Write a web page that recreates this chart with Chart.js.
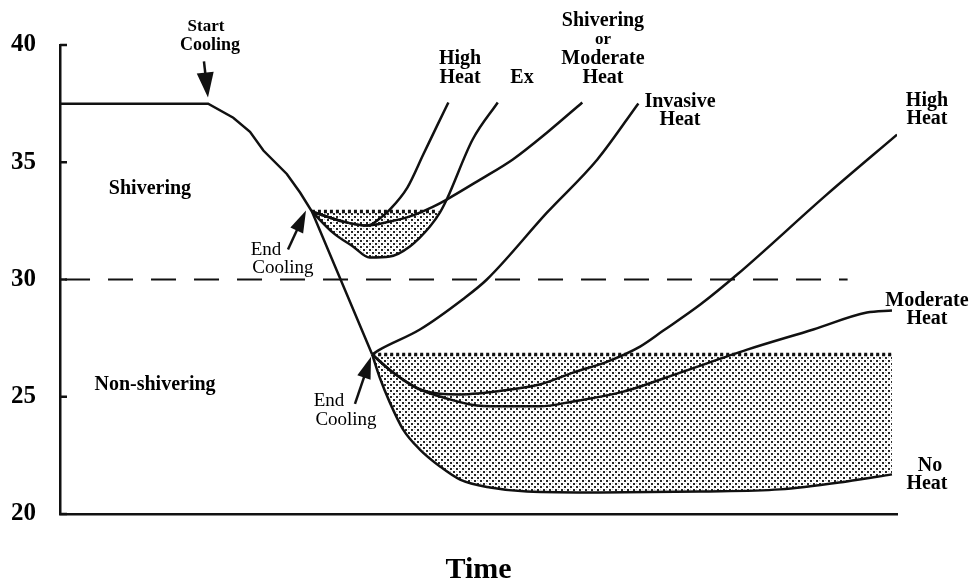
<!DOCTYPE html>
<html><head><meta charset="utf-8">
<script src="https://cdn.jsdelivr.net/npm/chart.js@4.4.1/dist/chart.umd.min.js"></script>
<style>html,body{margin:0;padding:0;background:#fff;}canvas{display:block;}</style>
</head><body>
<canvas id="c" width="969" height="588"></canvas>
<script>
// ---- data (time in arbitrary units 0..100, temperature in °C) ----
const yTickValues = [20, 25, 30, 35, 40];
const shiverThreshold = 30;
const dashTime = [0.6, 94.1];

const mainTime = [0, 17.7, 20.7, 22.7, 24.3, 27.1, 28.7, 30.1, 37.3];
const mainTemp = [37.5, 37.5, 36.9, 36.3, 35.5, 34.5, 33.7, 32.9, 26.8];

const upperLevel = 32.9;
const upperDotTime = [30.1, 45.1];

const upHighTime = [30.1, 33.8, 36.7, 38.2, 39.4, 41.5, 43.4, 45.0, 46.4];
const upHighTemp = [32.9, 32.47, 32.3, 32.6, 32.98, 33.92, 35.33, 36.52, 37.55];

const upShivTime = [30.1, 33.8, 36.7, 39.4, 41.8, 44.6, 46.2, 50.2, 54.1, 58.2, 62.4];
const upShivTemp = [32.9, 32.47, 32.3, 32.47, 32.69, 33.11, 33.41, 34.26, 35.12, 36.27, 37.55];

const upExTime = [30.1, 32.6, 35.0, 37.0, 39.4, 41.8, 44.2, 45.4, 46.2, 49.3, 52.3];
const upExTemp = [32.9, 32.0, 31.41, 30.94, 30.98, 31.41, 32.26, 32.86, 33.41, 35.97, 37.55];

const lowerLevel = 26.8;
const lowerDotTime = [37.3, 99.5];

const invTime = [37.3, 38.2, 43.0, 48.1, 51.0, 58.2, 64.2, 69.1];
const invTemp = [26.8, 27.01, 27.87, 29.15, 30.0, 32.86, 35.12, 37.51];

const lowHighTime = [37.3, 39.8, 43.0, 47.8, 53.8, 57.3, 61.3, 65.4, 69.3, 72.0, 76.5, 80.9, 91.6, 100];
const lowHighTemp = [26.8, 26.03, 25.31, 25.1, 25.31, 25.52, 26.03, 26.5, 27.14, 27.8, 28.93, 30.21, 33.62, 36.18];

const lowModTime = [37.3, 39.8, 43.0, 45.8, 49.8, 53.8, 57.3, 61.3, 67.3, 74.1, 82.1, 90.0, 96.4, 99.4];
const lowModTemp = [26.8, 26.03, 25.31, 24.97, 24.63, 24.59, 24.59, 24.8, 25.22, 26.03, 27.01, 27.87, 28.59, 28.68];

const noHeatTime = [37.3, 38.2, 39.4, 41.0, 43.0, 45.4, 47.8, 51.4, 55.8, 64.5, 76.5, 86.0, 94.0, 99.4];
const noHeatTemp = [26.8, 25.82, 24.76, 23.6, 22.75, 22.03, 21.47, 21.13, 20.96, 20.92, 20.96, 21.05, 21.39, 21.69];

// ---- annotations (in data coordinates) ----
const F = "'Liberation Serif','Times New Roman',serif";
const textNotes = [
  {t:'Start', x:17.44, y:40.83, b:true, s:17},
  {t:'Cooling', x:17.92, y:40.02, b:true, s:18},
  {t:'Shivering', x:10.75, y:33.92, b:true, s:20},
  {t:'End', x:24.61, y:31.28, b:false, s:19},
  {t:'Cooling', x:26.64, y:30.55, b:false, s:19},
  {t:'Non-shivering', x:11.35, y:25.57, b:true, s:20},
  {t:'End', x:32.14, y:24.88, b:false, s:19},
  {t:'Cooling', x:34.17, y:24.03, b:false, s:19},
  {t:'High', x:47.79, y:39.47, b:true, s:20},
  {t:'Heat', x:47.79, y:38.66, b:true, s:20},
  {t:'Ex', x:55.2, y:38.66, b:true, s:20},
  {t:'Shivering', x:64.87, y:41.09, b:true, s:20},
  {t:'or', x:64.87, y:40.28, b:true, s:17},
  {t:'Moderate', x:64.87, y:39.47, b:true, s:20},
  {t:'Heat', x:64.87, y:38.66, b:true, s:20},
  {t:'Invasive', x:74.07, y:37.63, b:true, s:20},
  {t:'Heat', x:74.07, y:36.87, b:true, s:20},
  {t:'High', x:103.58, y:37.68, b:true, s:20},
  {t:'Heat', x:103.58, y:36.91, b:true, s:20},
  {t:'Moderate', x:103.58, y:29.15, b:true, s:20},
  {t:'Heat', x:103.58, y:28.38, b:true, s:20},
  {t:'No', x:103.94, y:22.11, b:true, s:20},
  {t:'Heat', x:103.58, y:21.34, b:true, s:20}
];
const arrowNotes = [
  {x0:17.2, y0:39.30, x1:17.68, y1:37.76, len:25, w:17},
  {x0:27.24, y0:31.28, x1:29.39, y1:32.94, len:22, w:14},
  {x0:35.24, y0:24.70, x1:37.16, y1:26.71, len:22, w:14}
];

function pts(xs, ys){ return xs.map((x,i)=>({x:x, y:ys[i]})); }

// portion of the Ex curve that lies below the upper dotted level (for shading)
const exBelowCount = upExTemp.findIndex((v,i) => i > 0 && v > upperLevel);
const exShadeTime = upExTime.slice(0, exBelowCount);
const exShadeTemp = upExTemp.slice(0, exBelowCount);

const ctx = document.getElementById('c').getContext('2d');
function stipple(){
  const p = document.createElement('canvas'); p.width = 6; p.height = 6;
  const g = p.getContext('2d');
  g.fillStyle = 'rgba(0,0,0,0.85)';
  g.fillRect(0,0,2,2); g.fillRect(3,3,2,2);
  g.fillStyle = 'rgba(0,0,0,0.25)';
  g.fillRect(3,0,1,1); g.fillRect(0,3,1,1);
  return ctx.createPattern(p, 'repeat');
}
const pat = stipple();
const INK = '#111';

const base = {pointRadius:0, borderColor:INK, borderWidth:2.5, fill:false, cubicInterpolationMode:'monotone'};

const datasets = [
  Object.assign({}, base, {label:'threshold', data: pts(dashTime, [shiverThreshold, shiverThreshold]), borderDash:[25,18], borderWidth:2.2, tension:0, cubicInterpolationMode:'default'}),
  Object.assign({}, base, {label:'upper shade', data: pts(exShadeTime, exShadeTemp), borderWidth:0, borderColor:'rgba(0,0,0,0)', fill:{target:{value:upperLevel}}, backgroundColor:pat}),
  Object.assign({}, base, {label:'lower shade', data: pts(noHeatTime, noHeatTemp), borderWidth:0, borderColor:'rgba(0,0,0,0)', fill:{target:{value:lowerLevel}}, backgroundColor:pat}),
  Object.assign({}, base, {label:'upper dotted', data: pts(upperDotTime, [upperLevel, upperLevel]), borderDash:[3,3], borderWidth:3.5, borderCapStyle:'butt'}),
  Object.assign({}, base, {label:'lower dotted', data: pts(lowerDotTime, [lowerLevel, lowerLevel]), borderDash:[3,3], borderWidth:3.5, borderCapStyle:'butt'}),
  Object.assign({}, base, {label:'Ex', data: pts(upExTime, upExTemp)}),
  Object.assign({}, base, {label:'No Heat', data: pts(noHeatTime, noHeatTemp)}),
  Object.assign({}, base, {label:'main', data: pts(mainTime, mainTemp), tension:0, cubicInterpolationMode:'default'}),
  Object.assign({}, base, {label:'High Heat (upper)', data: pts(upHighTime, upHighTemp)}),
  Object.assign({}, base, {label:'Shivering or Moderate Heat', data: pts(upShivTime, upShivTemp)}),
  Object.assign({}, base, {label:'Invasive Heat', data: pts(invTime, invTemp)}),
  Object.assign({}, base, {label:'High Heat', data: pts(lowHighTime, lowHighTemp)}),
  Object.assign({}, base, {label:'Moderate Heat', data: pts(lowModTime, lowModTemp)})
];

const notesPlugin = {
  id:'notes',
  afterDraw(chart){
    const c = chart.ctx, xs = chart.scales.x, ys = chart.scales.y;
    c.save();
    // inward tick marks
    c.strokeStyle = INK; c.lineWidth = 2.5;
    ys.ticks.forEach(t => {
      const py = ys.getPixelForValue(t.value);
      c.beginPath(); c.moveTo(chart.chartArea.left, py); c.lineTo(chart.chartArea.left + 7, py); c.stroke();
    });
    // arrows
    arrowNotes.forEach(a => {
      const x0 = xs.getPixelForValue(a.x0), y0 = ys.getPixelForValue(a.y0);
      const x1 = xs.getPixelForValue(a.x1), y1 = ys.getPixelForValue(a.y1);
      const dx = x1-x0, dy = y1-y0, L = Math.hypot(dx,dy), ux = dx/L, uy = dy/L;
      const bx = x1 - ux*a.len, by = y1 - uy*a.len;
      c.lineWidth = 2.5; c.strokeStyle = INK; c.fillStyle = INK;
      c.beginPath(); c.moveTo(x0,y0); c.lineTo(bx + ux*3, by + uy*3); c.stroke();
      c.beginPath(); c.moveTo(x1,y1);
      c.lineTo(bx - uy*a.w/2, by + ux*a.w/2);
      c.lineTo(bx + uy*a.w/2, by - ux*a.w/2);
      c.closePath(); c.fill();
    });
    // texts
    c.fillStyle = '#000'; c.textAlign = 'center'; c.textBaseline = 'middle';
    textNotes.forEach(n => {
      c.font = (n.b ? 'bold ' : '') + n.s + 'px ' + F;
      c.fillText(n.t, xs.getPixelForValue(n.x), ys.getPixelForValue(n.y) + 1);
    });
    c.restore();
  }
};

new Chart(ctx, {
  type:'line',
  data:{datasets},
  options:{
    responsive:false,
    animation:false,
    layout:{padding:{left:0, right:72, top:45, bottom:0}},
    plugins:{legend:{display:false}, tooltip:{enabled:false}, filler:{drawTime:'beforeDatasetsDraw'}},
    scales:{
      x:{type:'linear', min:0, max:100,
         ticks:{display:false},
         grid:{display:false, drawTicks:false},
         border:{display:true, color:INK, width:2.5},
         title:{display:true, text:'Time', color:'#000', font:{family:F, size:30, weight:'bold'}, padding:0},
         afterFit(s){ s.height = 74; }},
      y:{type:'linear', min:20, max:40,
         afterBuildTicks(s){ s.ticks = yTickValues.map(v => ({value:v})); },
         ticks:{color:'#000', font:{family:F, size:25, weight:'bold'}, padding:24},
         grid:{display:false, drawTicks:false},
         border:{display:true, color:INK, width:2.5},
         afterFit(s){ s.width = 60; }}
    }
  },
  plugins:[notesPlugin]
});
</script>
</body></html>
